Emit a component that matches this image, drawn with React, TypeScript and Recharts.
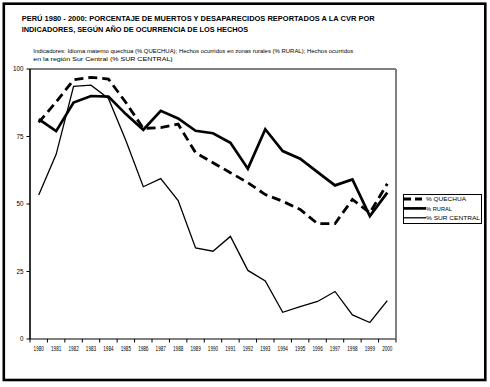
import React from "react";
import { LineChart, Line, XAxis, YAxis, ReferenceLine, Legend } from "recharts";

const years = ["1980","1981","1982","1983","1984","1985","1986","1987","1988","1989","1990","1991","1992","1993","1994","1995","1996","1997","1998","1999","2000"];
const quechua = [80.2, 87.8, 96, 96.9, 96.3, 87.6, 78, 78.3, 79.6, 69, 65.3, 61.6, 57.9, 53.5, 51, 48, 42.7, 42.7, 51.7, 46.7, 57.5];
const rural = [81.4, 77, 87.6, 90, 89.8, 83.3, 77.5, 84.5, 81.7, 77.1, 76.2, 72.7, 63.1, 77.7, 69.6, 66.8, 61.8, 56.9, 59.1, 45.5, 54.2];
const surCentral = [53.3, 68.4, 93.6, 94, 89.1, 73.5, 56.4, 59.4, 51.3, 33.7, 32.5, 38, 25.4, 21.5, 9.9, 12, 13.9, 17.6, 8.9, 6.1, 14.2];
const yTicks = [0, 25, 50, 75, 100];
const seriesNames = ["% QUECHUA", "% RURAL", "% SUR CENTRAL"];
const titleLines = [
  "PERÚ 1980 - 2000: PORCENTAJE DE MUERTOS Y DESAPARECIDOS REPORTADOS A LA CVR POR",
  "INDICADORES, SEGÚN AÑO DE OCURRENCIA DE LOS HECHOS",
];
const subtitleLines = [
  "Indicadores: Idioma materno quechua (% QUECHUA); Hechos ocurridos en zonas rurales (% RURAL); Hechos ocurridos",
  "en la región Sur Central (% SUR CENTRAL)",
];

const data = years.map((y, i) => ({ i, year: y, q: quechua[i], r: rural[i], s: surCentral[i] }));
const xTicks: number[] = [];
for (let k = -0.5; k <= years.length - 0.5 + 1e-9; k += 0.5) xTicks.push(k);

const FONT = "'Liberation Sans', Arial, sans-serif";

const seriesStyles = [
  { key: "q", width: 2.8, dash: "9 5" },
  { key: "r", width: 2.7, dash: undefined },
  { key: "s", width: 1.3, dash: undefined },
];

const XTick = (props: any) => {
  const { x, y, payload } = props;
  const v = payload.value;
  if (Math.abs(v - Math.round(v)) < 1e-6) {
    return (
      <text x={x} y={y + 11.7} textAnchor="middle" fontSize={7} fontFamily={FONT} fill="#000"
        textLength={10.3} lengthAdjust="spacingAndGlyphs">
        {years[Math.round(v)]}
      </text>
    );
  }
  return <line x1={x} x2={x} y1={y} y2={y + 3.5} stroke="#000" strokeWidth={1} />;
};

const YTick = (props: any) => {
  const { x, y, payload } = props;
  return (
    <text x={x} y={y} dy={2.2} textAnchor="end" fontSize={6.3} fontFamily={FONT} fill="#000">
      {payload.value}
    </text>
  );
};

const legendTextLen = [40, 26, 54];
const renderLegend = () => (
  <svg width={80} height={31} style={{ display: "block" }}>
    <rect x={0.5} y={0.5} width={78} height={29} fill="#fff" stroke="#000" strokeWidth={1} />
    {seriesNames.map((n, k) => {
      const cy = 5 + k * 9.4;
      return (
        <g key={n}>
          <line x1={1} x2={23} y1={cy} y2={cy} stroke="#000" strokeWidth={seriesStyles[k].width}
            strokeDasharray={seriesStyles[k].dash ? "7 4" : undefined} />
          <text x={23} y={cy + 2.2} fontSize={6} fontFamily={FONT} fill="#000"
            textLength={legendTextLen[k]} lengthAdjust="spacingAndGlyphs">{n}</text>
        </g>
      );
    })}
  </svg>
);

export default function App() {
  return (
    <div style={{ position: "absolute", left: 0, top: 0, width: 490, height: 387, background: "#fff" }}>
      <LineChart width={490} height={387} data={data} margin={{ top: 69, right: 94, left: 0, bottom: 28 }}>
        <XAxis dataKey="i" type="number" domain={[-0.5, 20.5]} ticks={xTicks} interval={0}
          tick={<XTick />} tickLine={false} tickSize={0} tickMargin={0} height={20}
          axisLine={{ stroke: "#808080", strokeWidth: 2 }} allowDataOverflow />
        <YAxis type="number" domain={[0, 100]} ticks={yTicks} width={30} tick={<YTick />}
          tickSize={3.5} tickMargin={3} tickLine={{ stroke: "#000" }}
          axisLine={{ stroke: "#000", strokeWidth: 1.6 }} />
        <ReferenceLine y={100} stroke="#808080" strokeWidth={2} />
        <ReferenceLine x={20.5} stroke="#808080" strokeWidth={2} />
        <Legend layout="vertical" align="center" verticalAlign="middle" content={renderLegend}
          wrapperStyle={{ position: "absolute", left: 402.5, top: 193.5, width: 80, height: 31 }} />
        {seriesStyles.map((s, k) => (
          <Line key={s.key} dataKey={s.key} name={seriesNames[k]} type="linear" stroke="#000"
            strokeWidth={s.width} strokeDasharray={s.dash} dot={false} isAnimationActive={false}
            strokeLinejoin="miter" />
        ))}
      </LineChart>
      <svg width={490} height={387} style={{ position: "absolute", left: 0, top: 0, pointerEvents: "none" }}>
        <rect x={3.8} y={3.7} width={481.5} height={376.3} fill="none" stroke="#000" strokeWidth={2.6} />
        <text x={21.7} y={21.3} fontSize={7.6} fontWeight="bold" fontFamily={FONT} fill="#000"
          textLength={353} lengthAdjust="spacingAndGlyphs">{titleLines[0]}</text>
        <text x={21.7} y={32.3} fontSize={7.6} fontWeight="bold" fontFamily={FONT} fill="#000"
          textLength={226.5} lengthAdjust="spacingAndGlyphs">{titleLines[1]}</text>
        <text x={33.3} y={52.6} fontSize={6.2} fontFamily={FONT} fill="#000"
          textLength={320} lengthAdjust="spacingAndGlyphs">{subtitleLines[0]}</text>
        <text x={33.3} y={61.4} fontSize={6.2} fontFamily={FONT} fill="#000"
          textLength={139.4} lengthAdjust="spacingAndGlyphs">{subtitleLines[1]}</text>
      </svg>
    </div>
  );
}
